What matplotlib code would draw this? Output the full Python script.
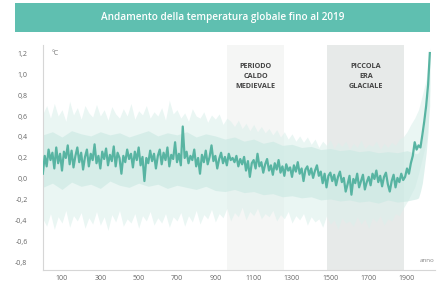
import matplotlib
matplotlib.rcParams.update({'font.size': 5, 'font.family': ['Open Sans', 'DejaVu Sans']})
from matplotlib import pyplot as plt
from matplotlib.patches import Rectangle
import numpy as np

title = 'Andamento della temperatura globale fino al 2019'

# main series, every 10 years (last point 2019)
years = list(range(0, 2020, 10)) + [2019]
temp = [0.05, 0.22, 0.12, 0.28, 0.18, 0.25, 0.10, 0.30, 0.15, 0.24,
        0.08, 0.26, 0.20, 0.32, 0.14, 0.27, 0.11, 0.22, 0.30, 0.16,
        0.25, 0.09, 0.21, 0.28, 0.12, 0.24, 0.18, 0.33, 0.15, 0.22,
        0.10, 0.26, 0.19, 0.29, 0.13, 0.23, 0.17, 0.31, 0.12, 0.25,
        0.20, 0.05, 0.22, 0.16, 0.28, 0.19, 0.24, 0.11, 0.26, 0.18,
        0.30, 0.13, 0.21, -0.02, 0.20, 0.15, 0.27, 0.17, 0.24, 0.10,
        0.22, 0.28, 0.14, 0.25, 0.18, 0.30, 0.12, 0.23, 0.19, 0.35,
        0.16, 0.24, 0.13, 0.50, 0.20, 0.26, 0.15, 0.22, 0.18, 0.28,
        0.12, 0.20, 0.05, 0.23, 0.16, 0.27, 0.14, 0.21, 0.32, 0.17,
        0.22, 0.10, 0.19, 0.25, 0.15, 0.21, 0.13, 0.24, 0.18, 0.20,
        0.16, 0.22, 0.12, 0.19, 0.14, 0.21, 0.08, 0.17, 0.02, 0.15,
        0.18, 0.10, 0.24, 0.12, 0.16, 0.06, 0.14, 0.19, 0.08, 0.13,
        0.04, 0.15, 0.09, 0.18, 0.06, 0.12, 0.03, 0.14, 0.08, 0.11,
        0.02, 0.13, 0.07, 0.16, 0.05, 0.10, -0.02, 0.09, 0.12, 0.04,
        0.10, 0.01, 0.08, 0.13, 0.03, 0.07, -0.04, 0.05, -0.08, 0.03,
        0.06, -0.02, 0.04, -0.06, 0.02, 0.07, -0.03, 0.01, -0.12, -0.05,
        0.03, -0.15, 0.00, -0.04, 0.05, -0.08, -0.02, 0.04, -0.10, -0.03,
        0.02, -0.06, 0.05, 0.00, 0.08, -0.03, 0.03, -0.07, 0.02, 0.06,
        -0.05, -0.12, -0.02, 0.04, -0.08, 0.01, -0.03, 0.05, -0.01, 0.02,
        0.10, 0.05, 0.15, 0.22, 0.35, 0.28, 0.32, 0.30, 0.42, 0.55,
        0.70, 0.90, 1.20]

# uncertainty envelope, every 20 years
band_years = list(range(0, 2020, 20)) + [2019]
outer_hi = [0.62, 0.70, 0.58, 0.72, 0.60, 0.66, 0.55, 0.74, 0.61, 0.68,
            0.57, 0.70, 0.63, 0.59, 0.71, 0.60, 0.66, 0.56, 0.69, 0.62,
            0.58, 0.67, 0.60, 0.72, 0.57, 0.65, 0.61, 0.70, 0.58, 0.64,
            0.60, 0.68, 0.56, 0.75, 0.62, 0.66, 0.58, 0.63, 0.55, 0.67,
            0.60, 0.58, 0.64, 0.54, 0.61, 0.57, 0.62, 0.52, 0.58, 0.55,
            0.50, 0.56, 0.48, 0.53, 0.46, 0.52, 0.45, 0.50, 0.44, 0.48,
            0.42, 0.47, 0.40, 0.45, 0.38, 0.43, 0.36, 0.41, 0.35, 0.40,
            0.33, 0.38, 0.30, 0.36, 0.32, 0.37, 0.29, 0.35, 0.31, 0.36,
            0.28, 0.34, 0.30, 0.37, 0.29, 0.33, 0.31, 0.36, 0.28, 0.34,
            0.30, 0.35, 0.32, 0.38, 0.40, 0.45, 0.52, 0.58, 0.66, 0.80,
            0.95, 1.25]
outer_lo = [-0.38, -0.45, -0.33, -0.48, -0.36, -0.42, -0.30, -0.46, -0.35, -0.40,
            -0.32, -0.47, -0.37, -0.43, -0.31, -0.44, -0.36, -0.49, -0.34, -0.41,
            -0.30, -0.45, -0.38, -0.42, -0.33, -0.47, -0.35, -0.40, -0.31, -0.44,
            -0.37, -0.42, -0.33, -0.46, -0.36, -0.40, -0.32, -0.45, -0.35, -0.41,
            -0.30, -0.43, -0.34, -0.38, -0.29, -0.41, -0.33, -0.37, -0.28, -0.40,
            -0.32, -0.36, -0.27, -0.39, -0.31, -0.35, -0.28, -0.38, -0.33, -0.36,
            -0.30, -0.40, -0.34, -0.38, -0.31, -0.42, -0.35, -0.39, -0.33, -0.44,
            -0.36, -0.41, -0.38, -0.46, -0.35, -0.43, -0.39, -0.48, -0.37, -0.42,
            -0.40, -0.45, -0.36, -0.43, -0.38, -0.47, -0.37, -0.41, -0.35, -0.44,
            -0.38, -0.40, -0.33, -0.35, -0.28, -0.22, -0.15, -0.08, 0.05, 0.20,
            0.35, 0.70]

# narrower core band, every 50 years then denser near the end
inner_years = list(range(0, 2000, 50)) + [1960, 1970, 1980, 1990, 2000, 2010, 2019]
inner_hi = [0.42, 0.45, 0.40, 0.46, 0.43, 0.41, 0.45, 0.42, 0.44, 0.40,
            0.43, 0.46, 0.41, 0.44, 0.42, 0.45, 0.40, 0.43, 0.41, 0.38,
            0.40, 0.36, 0.38, 0.34, 0.36, 0.32, 0.33, 0.30, 0.31, 0.28,
            0.29, 0.27, 0.28, 0.26, 0.27, 0.25, 0.26, 0.25, 0.27, 0.24,
            0.25, 0.30, 0.38, 0.52, 0.65, 0.85, 1.22]
inner_lo = [-0.08, -0.04, -0.10, -0.03, -0.07, -0.05, -0.09, -0.02, -0.06, -0.08,
            -0.04, -0.07, -0.05, -0.09, -0.06, -0.08, -0.10, -0.07, -0.11, -0.12,
            -0.10, -0.13, -0.12, -0.15, -0.14, -0.17, -0.16, -0.18, -0.17, -0.20,
            -0.19, -0.21, -0.20, -0.22, -0.21, -0.23, -0.20, -0.22, -0.21, -0.19,
            -0.18, -0.12, -0.04, 0.10, 0.25, 0.45, 0.85]

medieval = (960, 1260)
little_ice_age = (1485, 1885)

xticks = [100, 300, 500, 700, 900, 1100, 1300, 1500, 1700, 1900]
yticks = [1.2, 1.0, 0.8, 0.6, 0.4, 0.2, 0.0, -0.2, -0.4, -0.6, -0.8]
ylabels = ['1,2', '1,0', '0,8', '0,6', '0,4', '0,2', '0,0', '-0,2', '-0,4', '-0,6', '-0,8']

teal = '#58b4a2'
fig = plt.figure(figsize=(4.37, 2.89), dpi=100)
ax = fig.add_axes([0.098, 0.066, 0.897, 0.778])

ax.axvspan(medieval[0], medieval[1], color='#f5f6f5', lw=0, zorder=0)
ax.axvspan(little_ice_age[0], little_ice_age[1], color='#e7eae9', lw=0, zorder=0)
ax.fill_between(band_years, outer_lo, outer_hi, color='#dcf0ec', alpha=0.6, lw=0, zorder=1)
ax.fill_between(inner_years, inner_lo, inner_hi, color='#c9e8e2', alpha=0.6, lw=0, zorder=2)
ax.plot(years, temp, color=teal, lw=1.6, zorder=3)

ax.text(sum(medieval) / 2, 0.98, 'PERIODO\nCALDO\nMEDIEVALE', ha='center', va='center',
        fontsize=5.2, color='#444444', fontweight='bold', linespacing=1.6)
ax.text(sum(little_ice_age) / 2, 0.98, 'PICCOLA\nERA\nGLACIALE', ha='center', va='center',
        fontsize=5.2, color='#444444', fontweight='bold', linespacing=1.6)
ax.text(45, 1.2, '°C', ha='left', va='center', fontsize=5, color='#777777')
ax.text(2042, -0.78, 'anno', ha='right', va='center', fontsize=4.5, color='#888888')

ax.set_xlim(0, 2045)
ax.set_ylim(-0.867, 1.276)
ax.set_xticks(xticks)
ax.set_yticks(yticks)
ax.set_yticklabels(ylabels)
ax.tick_params(length=0, colors='#666666', labelsize=5)
ax.tick_params(axis='y', pad=11)
ax.tick_params(axis='x', pad=4)
for side in ['top', 'right']:
    ax.spines[side].set_visible(False)
for side in ['left', 'bottom']:
    ax.spines[side].set_color('#d6d6d6')
    ax.spines[side].set_linewidth(0.8)

fig.patches.append(Rectangle((0.034, 0.889), 0.95, 0.101, transform=fig.transFigure,
                             facecolor='#5fbfb0', edgecolor='none', zorder=0))
fig.text(0.509, 0.938, title, ha='center', va='center', color='white',
         fontsize=7.2, fontweight='semibold')

fig.savefig('out.png', dpi=100)
plt.close(fig)
